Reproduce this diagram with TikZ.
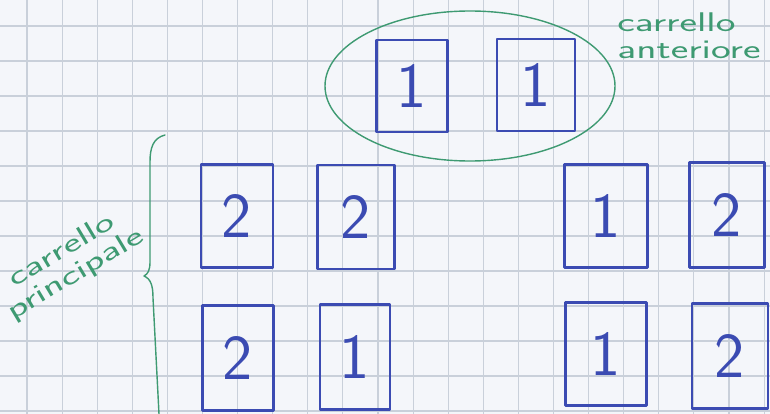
\documentclass[tikz,border=0pt]{standalone}
\usetikzlibrary{calc}
\definecolor{paper}{HTML}{F4F6FA}
\definecolor{gridc}{HTML}{C9D0DA}
\definecolor{ink}{HTML}{3B4BB2}
\definecolor{pen}{HTML}{3E9A72}
\newcommand{\wide}[1]{\scalebox{1.55}[1]{#1}}

\begin{document}
\begin{tikzpicture}[x=1pt,y=-1pt,font=\sffamily,line cap=round,line join=round]
  \tikzset{
    seat/.style={draw=ink,line width=2.3pt,inner sep=0pt,text=ink,
      font=\sffamily\fontsize{64}{64}\selectfont},
    note/.style={text=pen,align=left,font=\sffamily\fontsize{27}{27}\selectfont}
  }
  % squared paper
  \fill[paper] (0,0) rectangle (770,414);
  \useasboundingbox (0,0) rectangle (770,414);
  \foreach \k in {0,...,21}
    \draw[gridc,line width=1.1pt] (27+35.1*\k,0)--(27+35.1*\k,414);
  \foreach \k in {0,...,11}
    \draw[gridc,line width=1.1pt] (0,26+35*\k)--(770,26+35*\k);

  % front trolley
  \draw[pen,line width=1.4pt] (470,86) ellipse[x radius=145,y radius=75];
  \node[note] (front) at (689,36) {\wide{carrello}\\\wide{anteriore}};

  % seats: name/x/y/width/height/digit
  \foreach \n/\x/\y/\w/\h/\d in {
      t1/412/86/71/92/1, t2/536/85/78/92/1,
      a1/237/216/72/103/2, b1/356/217/77/104/2,
      c1/606/216/83/103/1, d1/727/215/75/105/2,
      a2/238/358/71/105/2, b2/355/357/70/105/1,
      c2/606/354/81/103/1, d2/730/356/76/105/2}
    \node[seat,minimum width=\w pt,minimum height=\h pt] (\n) at (\x,\y) {\d};

  % main trolley
  \draw[pen,line width=1.4pt] (165,135) .. controls (153,138) and (150,148) .. (150,162)
    -- (150,262) .. controls (150,270) and (148,274) .. (144,276)
    .. controls (151,279) and (153,286) .. (153,298) -- (159,414);
  \node[note,rotate=31,align=center] (main) at (69,263) {\wide{carrello}\\\wide{principale}};
\end{tikzpicture}
\end{document}
